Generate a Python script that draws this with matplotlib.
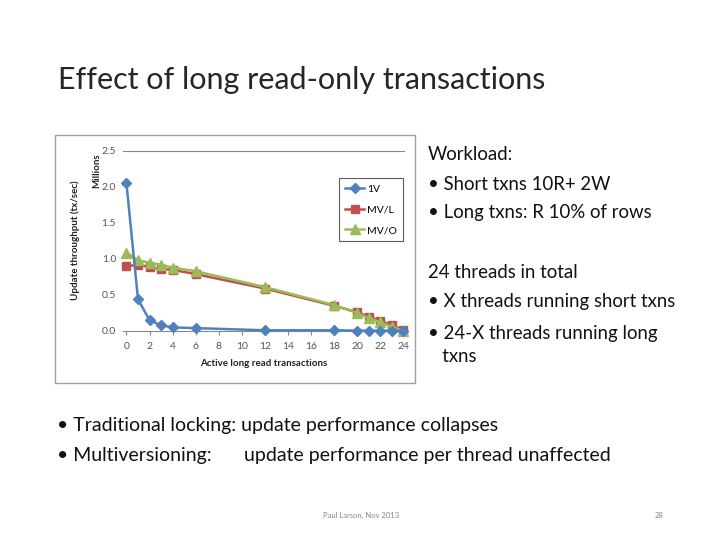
import matplotlib.pyplot as plt
from matplotlib.patches import Rectangle

# data
x_vals = [0, 1, 2, 3, 4, 6, 12, 18, 20, 21, 22, 23, 24]
tput_1v = [2.05, 0.44, 0.15, 0.08, 0.05, 0.04, 0.01, 0.01, 0.005, 0.005, 0.005, 0.005, 0.0]
tput_mvl = [0.90, 0.92, 0.89, 0.86, 0.85, 0.79, 0.59, 0.35, 0.26, 0.20, 0.14, 0.08, 0.01]
tput_mvo = [1.09, 0.98, 0.95, 0.92, 0.88, 0.83, 0.61, 0.36, 0.25, 0.18, 0.12, 0.06, 0.0]
x_ticks = list(range(0, 25, 2))
y_ticks = [0.0, 0.5, 1.0, 1.5, 2.0, 2.5]

plt.rcParams['font.family'] = ['Lato', 'DejaVu Sans']

fig = plt.figure(figsize=(7.2, 5.4), dpi=100)
fig.patch.set_facecolor('white')

# slide title
fig.text(58/720, 1 - 80/540, "Effect of long read-only transactions",
         fontsize=22, color='#262626', va='center', ha='left')

# chart frame
fig.patches.append(Rectangle((55/720, 1 - 383/540), 360/720, 248/540,
                             transform=fig.transFigure, fill=False,
                             edgecolor='#a0a0a0', linewidth=1.0))

ax = fig.add_axes([123/720, 1 - 331/540, 281/720, 180/540])
ax.plot(x_vals, tput_mvl, color='#C0504D', marker='s', markersize=6,
        linewidth=1.8, label='MV/L', zorder=3)
ax.plot(x_vals, tput_mvo, color='#9BBB59', marker='^', markersize=7,
        linewidth=1.8, label='MV/O', zorder=4)
ax.plot(x_vals, tput_1v, color='#4F81BD', marker='D', markersize=5,
        linewidth=1.8, label='1V', zorder=5)

ax.set_xlim(-0.3, 24.05)
ax.set_ylim(0, 2.5)
ax.set_xticks(x_ticks)
ax.set_yticks(y_ticks)
ax.set_yticklabels(["%.1f" % v for v in y_ticks])
for s in ['left', 'right']:
    ax.spines[s].set_visible(False)
ax.spines['bottom'].set_color('#888888')
ax.spines['top'].set_color('#888888')
ax.tick_params(axis='both', labelsize=7.5, colors='#555555', length=0, pad=5)
ax.tick_params(axis='x', length=3, direction='out', color='#888888')
for ln in ax.lines:
    ln.set_clip_on(False)

ax.set_xlabel("Active long read transactions", fontsize=7, fontweight='bold',
              color='#222222', labelpad=6)
fig.text(75/720, 1 - 240/540, "Update throughput (tx/sec)", rotation=90,
         fontsize=7, fontweight='bold', ha='center', va='center', color='#222222')
fig.text(97/720, 1 - 171/540, "Millions", rotation=90,
         fontsize=7, fontweight='bold', ha='center', va='center', color='#222222')

h, l = ax.get_legend_handles_labels()
order = [2, 0, 1]
leg = ax.legend([h[i] for i in order], [l[i] for i in order],
                loc='upper left', bbox_to_anchor=(216/281, 153/180),
                fontsize=7.5, frameon=True, fancybox=False, handlelength=1.8,
                handletextpad=0.3, labelspacing=1.1, borderpad=0.6,
                borderaxespad=0)
leg.get_frame().set_edgecolor('#333333')
leg.get_frame().set_linewidth(0.8)

# right side text
right_lines = [(155, "Workload:"), (184, "\u2022 Short txns 10R+ 2W"),
               (213, "\u2022 Long txns: R 10% of rows"),
               (273, "24 threads in total"),
               (302, "\u2022 X threads running short txns"),
               (334, "\u2022 24-X threads running long"),
               (356, "   txns")]
for y, t in right_lines:
    fig.text(428/720, 1 - y/540, t, fontsize=13.4, color='#111111', va='center', ha='left')

# bottom bullets
fig.text(57/720, 1 - 425/540, "\u2022 Traditional locking: update performance collapses",
         fontsize=14, color='#111111', va='center', ha='left')
fig.text(57/720, 1 - 455/540, "\u2022 Multiversioning:", fontsize=14,
         color='#111111', va='center', ha='left')
fig.text(244/720, 1 - 455/540, "update performance per thread unaffected",
         fontsize=14, color='#111111', va='center', ha='left')

# footer
fig.text(361/720, 1 - 515/540, "Paul Larson, Nov 2013", fontsize=5.5,
         color='#888888', va='center', ha='center')
fig.text(659/720, 1 - 515/540, "28", fontsize=5.5, color='#888888',
         va='center', ha='center')

fig.savefig('out.png', dpi=100)
